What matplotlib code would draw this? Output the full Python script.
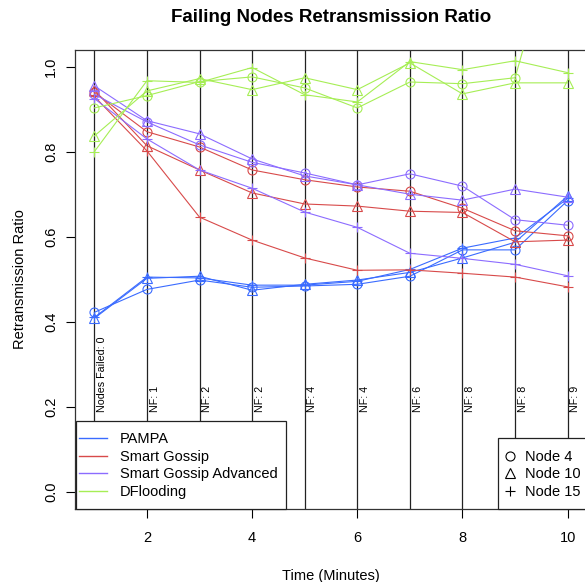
import matplotlib
matplotlib.use("Agg")
import matplotlib.pyplot as plt
from matplotlib.lines import Line2D
from matplotlib.patches import Rectangle

plt.rcParams['font.family'] = ['Liberation Sans', 'DejaVu Sans']

minutes = [1, 2, 3, 4, 5, 6, 7, 8, 9, 10]
nf_labels = ["Nodes Failed: 0", "NF: 1", "NF: 2", "NF: 2", "NF: 4",
             "NF: 4", "NF: 6", "NF: 8", "NF: 8", "NF: 9"]

pampa_n4 = [0.422, 0.476, 0.498, 0.481, 0.484, 0.488, 0.507, 0.569, 0.569, 0.685]
pampa_n10 = [0.408, 0.502, 0.507, 0.474, 0.488, 0.498, 0.516, 0.550, 0.587, 0.696]
pampa_n15 = [0.410, 0.505, 0.503, 0.486, 0.486, 0.495, 0.523, 0.573, 0.597, 0.690]

sg_n4 = [0.940, 0.847, 0.811, 0.757, 0.734, 0.717, 0.707, 0.667, 0.614, 0.602]
sg_n10 = [0.945, 0.814, 0.757, 0.703, 0.677, 0.672, 0.660, 0.657, 0.588, 0.592]
sg_n15 = [0.930, 0.802, 0.646, 0.592, 0.550, 0.521, 0.522, 0.514, 0.505, 0.482]

sga_n4 = [0.935, 0.870, 0.816, 0.775, 0.750, 0.722, 0.748, 0.719, 0.640, 0.627]
sga_n10 = [0.955, 0.873, 0.842, 0.783, 0.743, 0.722, 0.700, 0.686, 0.712, 0.693]
sga_n15 = [0.925, 0.830, 0.757, 0.714, 0.658, 0.622, 0.561, 0.549, 0.535, 0.508]

df_n4 = [0.903, 0.932, 0.965, 0.976, 0.950, 0.903, 0.964, 0.960, 0.974, 1.410]
df_n10 = [0.837, 0.943, 0.972, 0.946, 0.974, 0.946, 1.009, 0.936, 0.962, 0.962]
df_n15 = [0.800, 0.967, 0.963, 0.998, 0.934, 0.917, 1.012, 0.993, 1.014, 0.986]

protocols = ["PAMPA", "Smart Gossip", "Smart Gossip Advanced", "DFlooding"]
colors = ["#3a6bff", "#d84a4a", "#8c6cff", "#a6ee55"]
node_names = ["Node 4", "Node 10", "Node 15"]
markers = ["o", "^", "+"]
series = [
    [pampa_n4, pampa_n10, pampa_n15],
    [sg_n4, sg_n10, sg_n15],
    [sga_n4, sga_n10, sga_n15],
    [df_n4, df_n10, df_n15],
]

W, H = 585, 582
fig = plt.figure(figsize=(W / 100, H / 100), dpi=100)
left, right, top, bottom = 75.4, 586.6, 49.7, 508.7
ax = fig.add_axes([left / W, 1 - bottom / H, (right - left) / W, (bottom - top) / H])
ax.set_xlim(0.64, 10.36)
ax.set_ylim(-0.04, 1.04)


def fx(px):
    return px / W


def fy(py):
    return 1 - py / H


for x, lab in zip(minutes, nf_labels):
    ax.axvline(x, color="#222222", lw=0.9, zorder=1)
    ax.text(x + 0.145, 0.1875, lab, rotation=90, ha="center", va="bottom",
            fontsize=7.7, color="black", zorder=2)

msz = {"o": 6.5, "^": 7, "+": 7.5}
for col, group in zip(colors, series):
    for mk, vals in zip(markers, group):
        ax.plot(minutes, vals, color=col, lw=0.8, marker=mk, ms=msz[mk],
                mfc="none", mec=col, mew=0.8, zorder=3)

ax.set_xticks([2, 4, 6, 8, 10])
ax.set_yticks([0.0, 0.2, 0.4, 0.6, 0.8, 1.0])
ax.set_yticklabels(["0.0", "0.2", "0.4", "0.6", "0.8", "1.0"], rotation=90, va="center")
ax.tick_params(axis="both", direction="out", length=6.5, width=0.8, labelsize=10.5)
ax.tick_params(axis="x", pad=9.5)
ax.tick_params(axis="y", pad=6)
for s in ax.spines.values():
    s.set_linewidth(0.9)
    s.set_color("#333333")

ax.set_xlabel("Time (Minutes)", fontsize=10.5, labelpad=17)
ax.set_ylabel("Retransmission Ratio", fontsize=10.5, labelpad=12)
fig.text((left + right) / 2 / W, 1 - 17.5 / H, "Failing Nodes Retransmission Ratio",
         ha="center", va="center", fontsize=13.5, fontweight="bold")

# legend frames (R style boxes)
ax.add_patch(Rectangle((fx(76), fy(509)), fx(286) - fx(76), fy(421) - fy(509),
                       transform=fig.transFigure, facecolor="white", edgecolor="#222222",
                       lw=0.9, zorder=9, clip_on=False))
ax.add_patch(Rectangle((fx(498), fy(509)), fx(600) - fx(498), fy(438) - fy(509),
                       transform=fig.transFigure, facecolor="white", edgecolor="#222222",
                       lw=0.9, zorder=9, clip_on=False))

h1 = [Line2D([], [], color=c, lw=1.0) for c in colors]
leg1 = ax.legend(h1, protocols, loc="center left",
                 bbox_to_anchor=(fx(79), fy(465.5)), bbox_transform=fig.transFigure,
                 borderaxespad=0, borderpad=0, fontsize=10.5, handlelength=1.92,
                 handletextpad=0.89, labelspacing=0.24, frameon=False)
leg1.set_zorder(10)
ax.add_artist(leg1)

h2 = [Line2D([], [], color="black", lw=0, marker=m, ms=msz[m], mfc="none", mew=0.8)
      for m in markers]
leg2 = ax.legend(h2, node_names, loc="center left",
                 bbox_to_anchor=(fx(504.2), fy(474.4)), bbox_transform=fig.transFigure,
                 borderaxespad=0, borderpad=0, fontsize=10.5, handlelength=0.8,
                 handletextpad=0.63, labelspacing=0.24, frameon=False)
leg2.set_zorder(10)

fig.savefig("out.png", dpi=100)
